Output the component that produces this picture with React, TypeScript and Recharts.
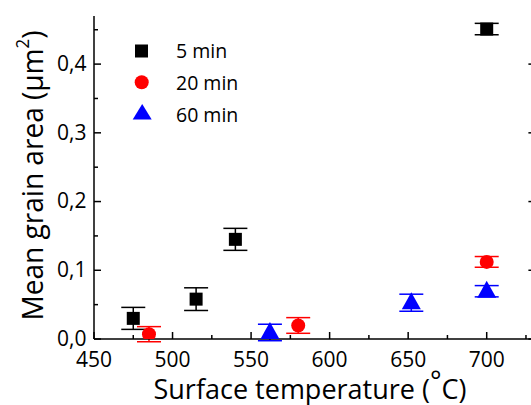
import React from 'react';
import { ComposedChart, Scatter, XAxis, YAxis, ErrorBar } from 'recharts';

// surface temperature (°C) and mean grain area (µm²) per annealing time
const temps5 = [475, 515, 540, 700];
const area5 = [0.03, 0.058, 0.145, 0.451];
const err5 = [0.016, 0.0165, 0.016, 0.0083];

const temps20 = [485, 580, 700];
const area20 = [0.007, 0.0197, 0.1122];
const err20 = [0.011, 0.0114, 0.0078];

const temps60 = [562, 652, 700];
const area60 = [0.0095, 0.0528, 0.0695];
const err60 = [0.012, 0.0124, 0.0082];

const xTicks = [450, 475, 500, 525, 550, 575, 600, 625, 650, 675, 700, 725];
const xLabels = [450, 500, 550, 600, 650, 700];
const yTicks = [0, 0.05, 0.1, 0.15, 0.2, 0.25, 0.3, 0.35, 0.4, 0.45];

const legendNames = ['5 min', '20 min', '60 min'];
const COLORS = ['#000000', '#ff0000', '#0000ff'];

const toPoints = (xs: number[], ys: number[], es: number[]) =>
  xs.map((x, i) => ({ x, y: ys[i], err: es[i] }));

const data5 = toPoints(temps5, area5, err5);
const data20 = toPoints(temps20, area20, err20);
const data60 = toPoints(temps60, area60, err60);

const FONT = '"Open Sans", sans-serif';

// layout
const CHART_W = 562;
const LEFT_W = 94;
const RIGHT_M = 26.6;
const PLOT_W = CHART_W - LEFT_W - RIGHT_M;

const isMajorY = (v: number) => Math.round(v * 100) % 10 === 0;

const BottomTick = (props: any) => {
  const { x, y, payload } = props;
  const major = xLabels.includes(payload.value);
  return (
    <g>
      <line x1={x} y1={y} x2={x} y2={y - (major ? 7 : 4)} stroke="#000" strokeWidth={1.5} />
      {major && (
        <text x={x} y={y + 27.5} textAnchor="middle" fontSize={21} fontFamily={FONT} fill="#000">
          {payload.value}
        </text>
      )}
    </g>
  );
};

const TopTick = (props: any) => {
  const { x, y, payload } = props;
  const major = xLabels.includes(payload.value);
  return <line x1={x} y1={y} x2={x} y2={y + (major ? 7 : 4)} stroke="#000" strokeWidth={1.5} />;
};

// left ticks + labels, with the mirrored ticks on the right frame edge
const LeftTick = (props: any) => {
  const { x, y, payload } = props;
  const major = isMajorY(payload.value);
  const len = major ? 7 : 4;
  return (
    <g>
      <line x1={x} y1={y} x2={x + len} y2={y} stroke="#000" strokeWidth={1.5} />
      <line x1={x + PLOT_W} y1={y} x2={x + PLOT_W - len} y2={y} stroke="#000" strokeWidth={1.5} />
      {major && (
        <text x={x - 7.5} y={y + 6.8} textAnchor="end" fontSize={21} fontFamily={FONT} fill="#000">
          {payload.value.toFixed(1).replace('.', ',')}
        </text>
      )}
    </g>
  );
};

const XTitle = (props: any) => {
  const vb = props.viewBox;
  return (
    <text x={310} y={vb.y + 59.5} textAnchor="middle" fontSize={27} fontFamily={FONT} fill="#000">
      Surface temperature (<tspan dy={-8}>°</tspan><tspan dy={8}>C)</tspan>
    </text>
  );
};

const YTitle = (props: any) => {
  const vb = props.viewBox;
  const cy = vb.y + vb.height / 2 - 2;
  return (
    <text
      transform={`translate(43, ${cy}) rotate(-90)`}
      textAnchor="middle"
      fontSize={30}
      fontFamily={FONT}
      fill="#000"
      textLength={290}
      lengthAdjust="spacingAndGlyphs"
    >
      Mean grain area (µm<tspan fontSize={18} dy={-14}>2</tspan><tspan dy={14}>)</tspan>
    </text>
  );
};

const Square = (props: any) => {
  const { cx, cy } = props;
  return <rect x={cx - 6.5} y={cy - 6.5} width={13} height={13} fill={COLORS[0]} />;
};

const Circle = (props: any) => {
  const { cx, cy } = props;
  return <circle cx={cx} cy={cy} r={7} fill={COLORS[1]} />;
};

const Triangle = (props: any) => {
  const { cx, cy } = props;
  return <polygon points={`${cx},${cy - 10.5} ${cx + 9.5},${cy + 6.5} ${cx - 9.5},${cy + 6.5}`} fill={COLORS[2]} />;
};

const LegendBox = () => {
  const rows = [51, 83, 115.5];
  return (
    <svg width={300} height={140} style={{ position: 'absolute', left: 0, top: 0 }}>
      <rect x={135} y={rows[0] - 6.5} width={13} height={13} fill={COLORS[0]} />
      <circle cx={141.7} cy={rows[1] - 0.7} r={7} fill={COLORS[1]} />
      <polygon points={`142.2,${rows[2] - 11.5} 151.7,${rows[2] + 4} 132.7,${rows[2] + 4}`} fill={COLORS[2]} />
      {legendNames.map((name, i) => (
        <text key={name} x={176} y={rows[i] + 6.5} fontSize={19.5} fontFamily={FONT} fill="#000">
          {name}
        </text>
      ))}
    </svg>
  );
};

export default function App() {
  return (
    <div style={{ position: 'absolute', left: 0, top: 0, width: 531, height: 405, overflow: 'hidden', background: '#fff' }}>
      <ComposedChart width={CHART_W} height={405} margin={{ top: 16, right: RIGHT_M, bottom: 0, left: 0 }}>
        <XAxis
          dataKey="x"
          type="number"
          domain={[450, 731]}
          ticks={xTicks}
          interval={0}
          height={66}
          tickSize={0}
          tickMargin={0}
          tickLine={false}
          axisLine={{ stroke: '#000', strokeWidth: 1.5 }}
          tick={<BottomTick />}
          label={<XTitle />}
        />
        <XAxis
          xAxisId="top"
          orientation="top"
          dataKey="x"
          type="number"
          domain={[450, 731]}
          ticks={xTicks}
          interval={0}
          height={0}
          tickSize={0}
          tickMargin={0}
          tickLine={false}
          axisLine={{ stroke: '#000', strokeWidth: 1.5 }}
          tick={<TopTick />}
        />
        <YAxis
          dataKey="y"
          type="number"
          domain={[0, 0.47]}
          allowDataOverflow
          ticks={yTicks}
          interval={0}
          width={LEFT_W}
          tickSize={0}
          tickMargin={0}
          tickLine={false}
          axisLine={{ stroke: '#000', strokeWidth: 1.5 }}
          tick={<LeftTick />}
          label={<YTitle />}
        />
        <Scatter name="5 min" data={data5} fill={COLORS[0]} shape={<Square />} isAnimationActive={false}>
          <ErrorBar dataKey="err" direction="y" width={12} stroke={COLORS[0]} strokeWidth={1.5} isAnimationActive={false} />
        </Scatter>
        <Scatter name="20 min" data={data20} fill={COLORS[1]} shape={<Circle />} isAnimationActive={false}>
          <ErrorBar dataKey="err" direction="y" width={12} stroke={COLORS[1]} strokeWidth={1.5} isAnimationActive={false} />
        </Scatter>
        <Scatter name="60 min" data={data60} fill={COLORS[2]} shape={<Triangle />} isAnimationActive={false}>
          <ErrorBar dataKey="err" direction="y" width={12} stroke={COLORS[2]} strokeWidth={1.5} isAnimationActive={false} />
        </Scatter>
      </ComposedChart>
      <LegendBox />
    </div>
  );
}
